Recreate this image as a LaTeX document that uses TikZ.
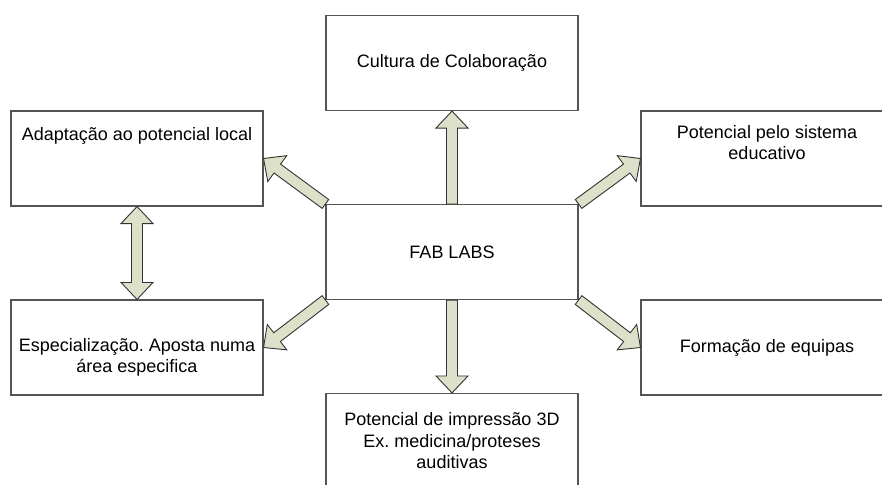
\documentclass[tikz,border=0pt]{standalone}
\usepackage{fontspec}
\setmainfont{Liberation Sans}
\usetikzlibrary{calc}
\frenchspacing
\definecolor{arrowfill}{HTML}{DDE1C9}
\definecolor{boxline}{HTML}{555555}
\definecolor{arrowline}{HTML}{333333}
\tikzset{
  box/.style={draw=boxline, line width=1.1pt, minimum width=252pt, minimum height=95pt, inner sep=0pt, font=\fontsize{18}{21.5}\selectfont, align=center},
  lbl/.style={font=\fontsize{18}{21.5}\selectfont, align=center, inner sep=0pt},
  barrow/.style={draw=arrowline, fill=arrowfill, line width=0.9pt, line join=miter},
}
\newcommand{\blockarrow}[2]{%
  \path ($(#2)!17pt!(#1)$) coordinate (h);
  \draw[barrow] ($(#1)!5.5pt!90:(#2)$) -- ($(h)!5.5pt!90:(#2)$) -- ($(h)!16pt!90:(#2)$) -- (#2) -- ($(h)!16pt!-90:(#2)$) -- ($(h)!5.5pt!-90:(#2)$) -- ($(#1)!5.5pt!-90:(#2)$) -- cycle;
}
\newcommand{\dblarrow}[2]{%
  \path ($(#2)!17pt!(#1)$) coordinate (hb) ($(#1)!17pt!(#2)$) coordinate (ha);
  \draw[barrow] (#1) -- ($(ha)!16pt!90:(#2)$) -- ($(ha)!5.5pt!90:(#2)$) -- ($(hb)!5.5pt!90:(#2)$) -- ($(hb)!16pt!90:(#2)$) -- (#2) -- ($(hb)!16pt!-90:(#2)$) -- ($(hb)!5.5pt!-90:(#2)$) -- ($(ha)!5.5pt!-90:(#2)$) -- ($(ha)!16pt!-90:(#2)$) -- cycle;
}
\begin{document}
\begin{tikzpicture}[x=1pt, y=-1pt]
  \useasboundingbox (0,0) rectangle (882,484);
  \clip (0,0) rectangle (882,484);
  \node[box] (top) at (452,63) {Cultura de Colaboração};
  \node[box] (c) at (452,252) {FAB LABS};
  \node[box] (lt) at (137,158.5) {};
  \node[box] (lb) at (137,347.5) {};
  \node[box] (rt) at (767,158.5) {};
  \node[box] (rb) at (767,347.5) {Formação de equipas};
  \node[box] (bot) at (452,441) {Potencial de impressão 3D\\Ex. medicina/proteses\\auditivas};
  \node[lbl] (ltt) at (137,136) {Adaptação ao potencial local};
  \node[lbl] (rtt) at (767,142.5) {Potencial pelo sistema\\educativo};
  \node[lbl] (lbt) at (137,357.5) {Especialização. Aposta numa\\área especifica};
  \blockarrow{c.north}{top.south}
  \blockarrow{c.south}{bot.north}
  \blockarrow{c.north west}{lt.east}
  \blockarrow{c.north east}{rt.west}
  \blockarrow{c.south west}{lb.east}
  \blockarrow{c.south east}{rb.west}
  \dblarrow{lt.south}{lb.north}
\end{tikzpicture}
\end{document}
